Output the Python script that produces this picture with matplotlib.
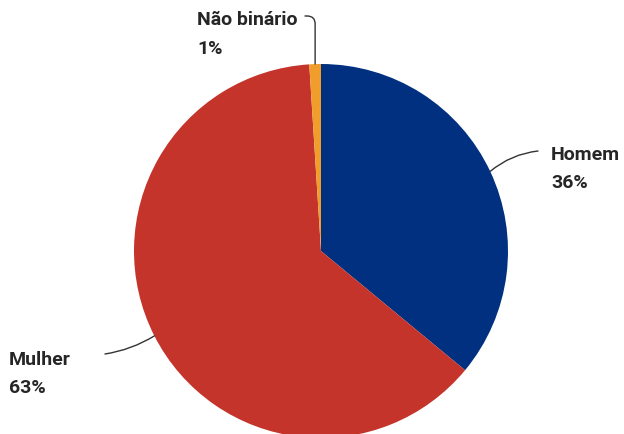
import matplotlib
matplotlib.use('Agg')
import matplotlib.pyplot as plt
import numpy as np

# Data
labels = ['Homem', 'Mulher', 'Não binário']
shares = [36, 63, 1]
colors = ['#00307f', '#c5342b', '#f19d2c']

# label text placement (figure pixels, top-left of text) and leader line ends
text_pos = [(551, 289), (9, 84), (197, 424)]
line_end = [(538, 283), (105, 80), (305, 418)]
line_style = ['arc3,rad=0.15', 'arc3,rad=0.1', 'angle,angleA=0,angleB=90,rad=8']

W, H = 624, 435
fig = plt.figure(figsize=(W / 100, H / 100), dpi=100)
cx, cy, r = 321, 435 - 252, 187
ax = fig.add_axes([(cx - r) / W, (cy - r) / H, 2 * r / W, 2 * r / H])

wedges, _ = ax.pie(shares, colors=colors, startangle=90, counterclock=False,
                   radius=1, wedgeprops=dict(linewidth=0))
ax.set_xlim(-1, 1)
ax.set_ylim(-1, 1)
ax.set_aspect('equal')
ax.axis('off')
for w in wedges:
    w.set_clip_on(False)

for i, w in enumerate(wedges):
    mid = np.deg2rad((w.theta1 + w.theta2) / 2)
    x, y = np.cos(mid), np.sin(mid)
    ax.annotate('', xy=(x, y), xycoords='data',
                xytext=line_end[i], textcoords='figure pixels',
                arrowprops=dict(arrowstyle='-', color='#333333', lw=1,
                                connectionstyle=line_style[i],
                                shrinkA=0, shrinkB=0),
                annotation_clip=False)
    tx, ty = text_pos[i]
    fig.text(tx / W, ty / H, f'{labels[i]}\n{shares[i]}%', ha='left', va='top',
             fontsize=14, fontweight='bold', color='#262626',
             family='Roboto', linespacing=1.75)

fig.savefig('out.png', dpi=100)
